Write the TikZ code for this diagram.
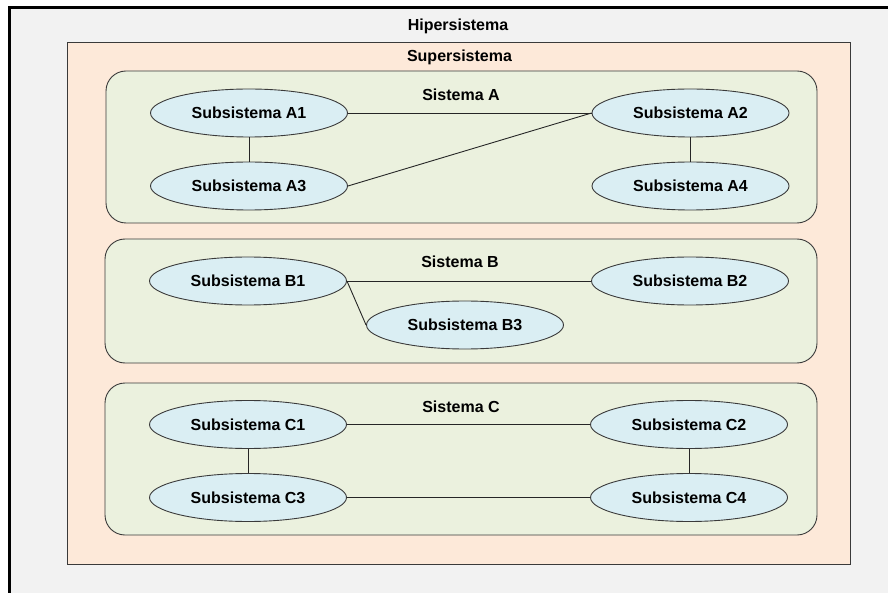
\documentclass[tikz,border=0pt]{standalone}
\usepackage{fontspec}
\setmainfont{Liberation Sans}
\usetikzlibrary{shapes.geometric}
\definecolor{hyperbg}{HTML}{F2F2F2}
\definecolor{superbg}{HTML}{FDE9D9}
\definecolor{sisbg}{HTML}{EBF1DE}
\definecolor{subbg}{HTML}{DAEEF3}
\definecolor{edgegray}{HTML}{3A3A3A}
\tikzset{
  lbl/.style={font=\fontsize{16}{19}\selectfont\bfseries, inner sep=0pt},
  sub/.style={ellipse, draw=edgegray, line width=0.9pt, fill=subbg, minimum width=197pt, minimum height=48pt, inner sep=0pt, font=\fontsize{16}{19}\selectfont\bfseries},
  sisbox/.style={draw=edgegray, line width=0.9pt, fill=sisbg, rounded corners=20pt},
  conn/.style={draw=black!85, line width=0.9pt}
}
\begin{document}
\begin{tikzpicture}[x=1pt,y=-1pt]
\useasboundingbox (0,0) rectangle (888,593);
\fill[white] (0,0) rectangle (888,593);
\fill[hyperbg] (9,7.5) rectangle (888,593);
\draw[line width=3pt] (9,593) -- (9,7.5) -- (888,7.5);
\node[lbl] (hyper) at (458,26) {Hipersistema};
% Supersistema
\draw[draw=edgegray, line width=0.9pt, fill=superbg] (67,42) rectangle (850,564);
\node[lbl] (super) at (459.5,57) {Supersistema};
% Sistemas
\path[sisbox] (106,71) rectangle (817,223);
\path[sisbox] (105,239) rectangle (817,363);
\path[sisbox] (105,383) rectangle (817,535);
\node[lbl] (sA) at (461,95) {Sistema A};
\node[lbl] (sB) at (460,262) {Sistema B};
\node[lbl] (sC) at (461,407) {Sistema C};
% Sistema A
\node[sub] (A1) at (249,113) {Subsistema A1};
\node[sub] (A2) at (690.5,113) {Subsistema A2};
\node[sub] (A3) at (249,186) {Subsistema A3};
\node[sub] (A4) at (690.5,186) {Subsistema A4};
\draw[conn] (A1) -- (A2);
\draw[conn] (A3.east) -- (A2.west);
\draw[conn] (A1) -- (A3);
\draw[conn] (A2) -- (A4);
% Sistema B
\node[sub] (B1) at (248,281) {Subsistema B1};
\node[sub] (B2) at (690,281) {Subsistema B2};
\node[sub] (B3) at (465,325) {Subsistema B3};
\draw[conn] (B1) -- (B2);
\draw[conn] (B1.east) -- (B3.west);
% Sistema C
\node[sub] (C1) at (248,424.5) {Subsistema C1};
\node[sub] (C2) at (689,424.5) {Subsistema C2};
\node[sub] (C3) at (248,497.5) {Subsistema C3};
\node[sub] (C4) at (689,497.5) {Subsistema C4};
\draw[conn] (C1) -- (C2);
\draw[conn] (C3) -- (C4);
\draw[conn] (C1) -- (C3);
\draw[conn] (C2) -- (C4);
\end{tikzpicture}
\end{document}
